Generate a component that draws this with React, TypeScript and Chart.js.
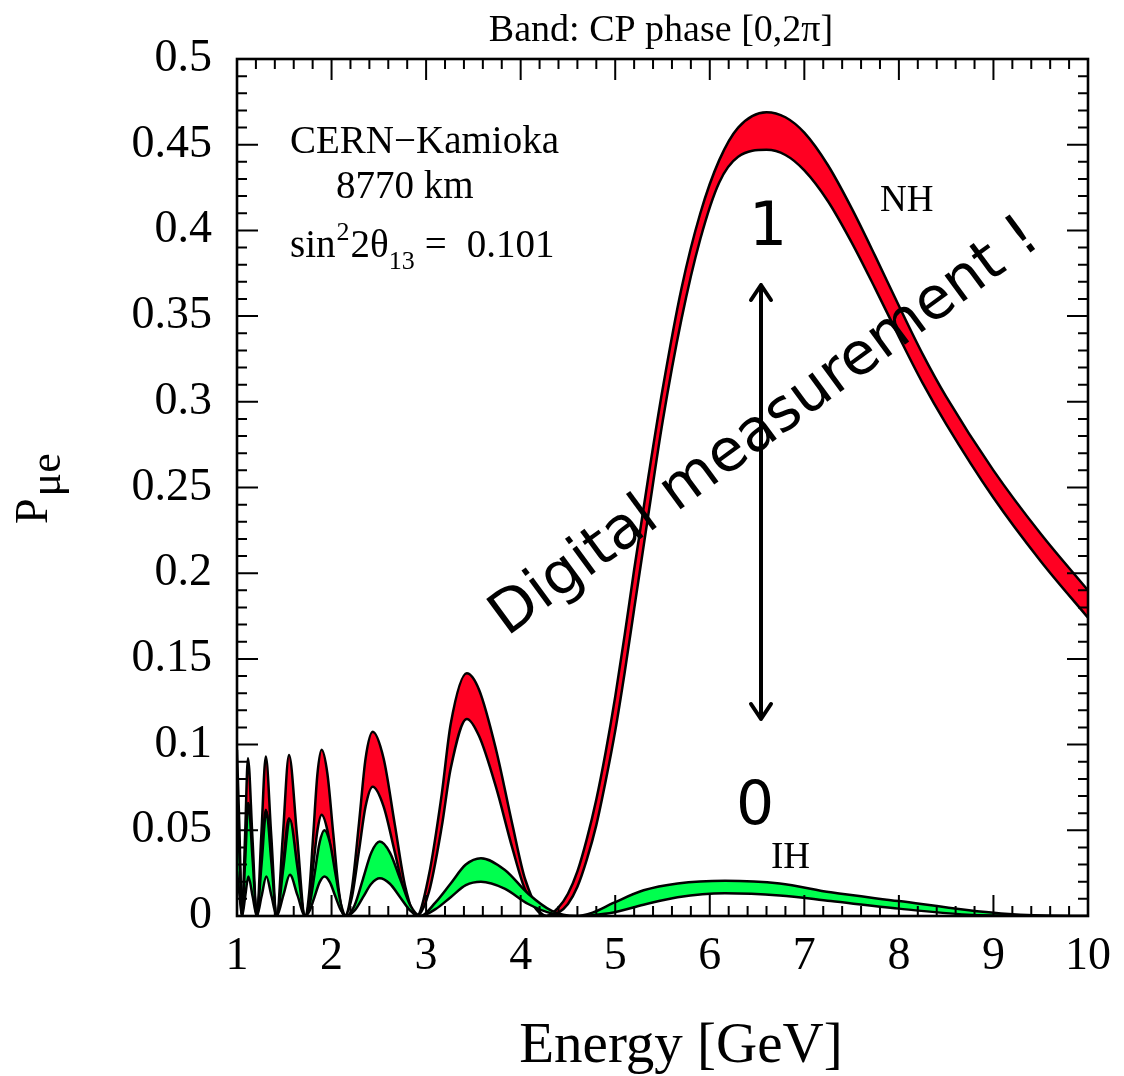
import React, { useEffect, useRef } from "react";
import { Chart, registerables } from "chart.js";

Chart.register(...registerables);

// ---------- text ----------
const TITLE = "Band: CP phase [0,2π]";
const X_TITLE = "Energy [GeV]";
const Y_TITLE_MAIN = "P";
const Y_TITLE_SUB = "μe";
const INFO_LINE1 = "CERN−Kamioka";
const INFO_LINE2 = "8770 km";
const LABEL_NH = "NH";
const LABEL_IH = "IH";
const NOTE = "Digital measurement !";
const NOTE_ONE = "1";
const NOTE_ZERO = "0";

// ---------- ticks ----------
const X_TICKS = [1, 2, 3, 4, 5, 6, 7, 8, 9, 10];
const X_TICK_LABELS = ["1", "2", "3", "4", "5", "6", "7", "8", "9", "10"];
const Y_TICKS = [0, 0.05, 0.1, 0.15, 0.2, 0.25, 0.3, 0.35, 0.4, 0.45, 0.5];
const Y_TICK_LABELS = ["0", "0.05", "0.1", "0.15", "0.2", "0.25", "0.3", "0.35", "0.4", "0.45", "0.5"];

// ---------- data: Normal hierarchy band (red) ----------
const NH_E = [
  1.0, 1.025, 1.053, 1.085, 1.116, 1.163, 1.21, 1.257, 1.305, 1.362, 1.42, 1.485, 1.55, 1.635, 1.72,
  1.764, 1.807, 1.851, 1.895, 1.956, 2.018, 2.079, 2.14, 2.215, 2.29, 2.36, 2.435, 2.55, 2.67, 2.78,
  2.9, 3.03, 3.165, 3.26, 3.43, 3.56, 3.74, 3.91, 4.05, 4.27, 4.4, 4.5, 4.6, 4.7, 4.8, 4.9, 5.0,
  5.1, 5.2, 5.35, 5.5, 5.7, 5.9, 6.1, 6.3, 6.6, 6.8, 7.0, 7.25, 7.5, 7.75, 8.0, 8.25, 8.5, 9.0,
  9.5, 10.0,
];
const NH_UPPER = [
  0.097, 0.052, 0, 0.046, 0.092, 0.046, 0, 0.047, 0.093, 0.047, 0, 0.047, 0.094, 0.047, 0,
  0.014, 0.048, 0.083, 0.097, 0.083, 0.048, 0.014, 0, 0.016, 0.054, 0.092, 0.1075, 0.092, 0.053, 0.017,
  0, 0.024, 0.071, 0.112, 0.1416, 0.132, 0.097, 0.054, 0.021, 0, 0.005, 0.013, 0.026, 0.045, 0.068, 0.096, 0.128,
  0.164, 0.202, 0.256, 0.307, 0.366, 0.41, 0.441, 0.46, 0.469, 0.466, 0.457, 0.438, 0.413, 0.385, 0.356, 0.328, 0.303, 0.26,
  0.223, 0.19,
];
const NH_LOWER = [
  0.066, 0.036, 0, 0.033, 0.066, 0.033, 0, 0.031, 0.062, 0.031, 0, 0.029, 0.057, 0.029, 0,
  0.0086, 0.0295, 0.05, 0.059, 0.05, 0.0295, 0.0086, 0, 0.011, 0.038, 0.064, 0.0754, 0.064, 0.037, 0.012,
  0, 0.014, 0.052, 0.086, 0.115, 0.105, 0.075, 0.04, 0.015, 0, 0.002, 0.007, 0.017, 0.033, 0.053, 0.079, 0.108,
  0.142, 0.179, 0.234, 0.288, 0.348, 0.395, 0.428, 0.443, 0.447, 0.444, 0.435, 0.417, 0.393, 0.366, 0.338, 0.311, 0.287, 0.244,
  0.207, 0.174,
];

// ---------- data: Inverted hierarchy band (green) ----------
const IH_E = [
  1.0, 1.025, 1.053, 1.087, 1.12, 1.165, 1.21, 1.26, 1.31, 1.365, 1.42, 1.49, 1.56, 1.64, 1.72,
  1.771, 1.822, 1.873, 1.925, 1.983, 2.04, 2.098, 2.155, 2.244, 2.333, 2.421, 2.51, 2.617, 2.725, 2.832,
  2.94, 3.1, 3.26, 3.42, 3.58, 3.83, 4.08, 4.33, 4.58, 4.76, 4.98, 5.3, 5.66, 6.16, 6.74, 7.28, 8.0,
  8.72, 9.08, 9.5, 10.0,
];
const IH_UPPER = [
  0.066, 0.036, 0, 0.033, 0.066, 0.033, 0, 0.0305, 0.061, 0.0305, 0, 0.028, 0.056, 0.028, 0,
  0.0073, 0.025, 0.0427, 0.05, 0.0427, 0.025, 0.0073, 0, 0.0063, 0.0217, 0.037, 0.0434, 0.037, 0.0217, 0.0063,
  0, 0.008, 0.019, 0.03, 0.0337, 0.027, 0.013, 0.003, 0, 0.002, 0.0076, 0.015, 0.019, 0.0206, 0.019, 0.0138, 0.0087,
  0.0035, 0.0015, 0.0003, 0,
];
const IH_LOWER = [
  0.026, 0.013, 0, 0.0115, 0.023, 0.0115, 0, 0.0115, 0.023, 0.0115, 0, 0.012, 0.024, 0.012, 0,
  0.0034, 0.0115, 0.0196, 0.023, 0.0196, 0.0115, 0.0034, 0, 0.0032, 0.011, 0.0188, 0.022, 0.0188, 0.011, 0.0032,
  0, 0.004, 0.011, 0.018, 0.02, 0.016, 0.007, 0.0015, 0, 0.0005, 0.002, 0.0066, 0.011, 0.0133, 0.012, 0.0087, 0.0043,
  0.0008, 0.0003, 0.0001, 0,
];

// ---------- style ----------
const RED = "#ff0022";
const GREEN = "#00ff4e";
const SERIF = '"Liberation Serif", "Times New Roman", serif';
const SANS = '"DejaVu Sans", "Noto Sans", sans-serif';

const toPoints = (xs: number[], ys: number[]) => xs.map((x, i) => ({ x, y: ys[i] }));

const decorPlugin = {
  id: "decor",
  afterDraw(chart: any) {
    const { ctx, chartArea: a, scales } = chart;
    const xs = scales.x;
    const ys = scales.y;
    ctx.save();

    // inward ticks on all four sides
    ctx.strokeStyle = "#000";
    ctx.lineWidth = 2;
    ctx.beginPath();
    const xMin = X_TICKS[0];
    const xMax = X_TICKS[X_TICKS.length - 1];
    const xMinor = 0.2;
    const nx = Math.round((xMax - xMin) / xMinor);
    for (let i = 0; i <= nx; i++) {
      const px = xs.getPixelForValue(xMin + i * xMinor);
      const len = i % 5 === 0 ? 21 : 10;
      ctx.moveTo(px, a.bottom);
      ctx.lineTo(px, a.bottom - len);
      ctx.moveTo(px, a.top);
      ctx.lineTo(px, a.top + len);
    }
    const yMax = Y_TICKS[Y_TICKS.length - 1];
    const yMinor = 0.01;
    const ny = Math.round(yMax / yMinor);
    for (let i = 0; i <= ny; i++) {
      const py = ys.getPixelForValue(i * yMinor);
      const len = i % 5 === 0 ? 21 : 10;
      ctx.moveTo(a.left, py);
      ctx.lineTo(a.left + len, py);
      ctx.moveTo(a.right, py);
      ctx.lineTo(a.right - len, py);
    }
    ctx.stroke();
    ctx.lineWidth = 2.6;
    ctx.strokeRect(a.left, a.top, a.right - a.left, a.bottom - a.top);

    ctx.fillStyle = "#000";
    ctx.textBaseline = "alphabetic";

    // title
    ctx.font = `38px ${SERIF}`;
    ctx.textAlign = "center";
    ctx.fillText(TITLE, 661, 41);

    // x title
    ctx.font = `57px ${SERIF}`;
    ctx.fillText(X_TITLE, 681, 1062);

    // y title
    ctx.save();
    ctx.translate(47, 524);
    ctx.rotate(-Math.PI / 2);
    ctx.textAlign = "left";
    ctx.font = `46px ${SERIF}`;
    ctx.fillText(Y_TITLE_MAIN, 0, 0);
    const pw = ctx.measureText(Y_TITLE_MAIN).width;
    ctx.font = `44px ${SERIF}`;
    ctx.fillText(Y_TITLE_SUB, pw + 2, 13);
    ctx.restore();

    // info text
    ctx.textAlign = "left";
    ctx.font = `39px ${SERIF}`;
    ctx.fillText(INFO_LINE1, 290, 153);
    ctx.fillText(INFO_LINE2, 336, 198);
    const base = 257;
    let cx = 290;
    const seg = (t: string, size: number, dy: number, gap = 0) => {
      cx += gap;
      ctx.font = `${size}px ${SERIF}`;
      ctx.fillText(t, cx, base + dy);
      cx += ctx.measureText(t).width;
    };
    seg("sin", 39, 0);
    seg("2", 26, -17, 1);
    seg("2θ", 39, 0, 1);
    seg("13", 26, 12, 0);
    seg("=", 39, 0, 10);
    seg("0.101", 39, 0, 20);

    // band labels
    ctx.font = `37px ${SERIF}`;
    ctx.fillText(LABEL_NH, 880, 211);
    ctx.fillText(LABEL_IH, 771, 868);

    // annotation
    ctx.font = `60px ${SANS}`;
    ctx.textAlign = "center";
    ctx.fillText(NOTE_ONE, 768, 245);
    ctx.fillText(NOTE_ZERO, 755, 824);

    // double arrow
    ctx.strokeStyle = "#000";
    ctx.lineWidth = 4;
    ctx.lineCap = "round";
    ctx.lineJoin = "round";
    const ax = 761;
    const y1 = 285;
    const y2 = 719;
    ctx.beginPath();
    ctx.moveTo(ax, y1);
    ctx.lineTo(ax, y2);
    ctx.moveTo(ax - 10, y1 + 15);
    ctx.lineTo(ax, y1);
    ctx.lineTo(ax + 10, y1 + 15);
    ctx.moveTo(ax - 10, y2 - 15);
    ctx.lineTo(ax, y2);
    ctx.lineTo(ax + 10, y2 - 15);
    ctx.stroke();

    ctx.save();
    ctx.translate(507, 637);
    ctx.rotate((-36.3 * Math.PI) / 180);
    ctx.textAlign = "left";
    ctx.font = `59px ${SANS}`;
    ctx.fillText(NOTE, 0, 0);
    ctx.restore();

    ctx.restore();
  },
};

export default function App() {
  const ref = useRef<HTMLCanvasElement | null>(null);

  useEffect(() => {
    const canvas = ref.current;
    if (!canvas) return;
    const common = {
      borderColor: "#000",
      borderWidth: 2.5,
      pointRadius: 0,
      pointHoverRadius: 0,
      cubicInterpolationMode: "monotone" as const,
    };
    const chart = new Chart(canvas, {
      type: "line",
      data: {
        datasets: [
          { ...common, label: "IH upper", data: toPoints(IH_E, IH_UPPER), fill: false, order: 0 },
          { ...common, label: "IH lower", data: toPoints(IH_E, IH_LOWER), fill: "-1", backgroundColor: GREEN, order: 1 },
          { ...common, label: "NH upper", data: toPoints(NH_E, NH_UPPER), fill: false, order: 2 },
          { ...common, label: "NH lower", data: toPoints(NH_E, NH_LOWER), fill: "-1", backgroundColor: RED, order: 3 },
        ],
      },
      options: {
        responsive: false,
        animation: false,
        devicePixelRatio: 1,
        events: [],
        layout: { padding: { left: 0, right: 33, top: 59, bottom: 0 } },
        plugins: {
          legend: { display: false },
          tooltip: { enabled: false },
          title: { display: false },
        },
        scales: {
          x: {
            type: "linear",
            min: 1,
            max: 10,
            afterBuildTicks: (s: any) => {
              s.ticks = X_TICKS.map((v) => ({ value: v }));
            },
            afterFit: (s: any) => {
              s.height = 160;
            },
            ticks: {
              callback: (_v: any, i: number) => X_TICK_LABELS[i],
              font: { family: SERIF, size: 46 },
              color: "#000",
              padding: 13,
              maxRotation: 0,
              autoSkip: false,
            },
            grid: { display: false, drawTicks: false },
            border: { display: false },
          },
          y: {
            type: "linear",
            min: 0,
            max: 0.5,
            afterBuildTicks: (s: any) => {
              s.ticks = Y_TICKS.map((v) => ({ value: v }));
            },
            afterFit: (s: any) => {
              s.width = 237;
            },
            ticks: {
              callback: (_v: any, i: number) => Y_TICK_LABELS[i],
              font: { family: SERIF, size: 46 },
              color: "#000",
              padding: 25,
              autoSkip: false,
            },
            grid: { display: false, drawTicks: false },
            border: { display: false },
          },
        },
      } as any,
      plugins: [decorPlugin],
    });
    return () => chart.destroy();
  }, []);

  return (
    <div style={{ position: "absolute", left: 0, top: 0, width: 1124, height: 1076, background: "#fff" }}>
      <canvas ref={ref} width={1124} height={1076} style={{ display: "block", width: 1124, height: 1076 }} />
    </div>
  );
}
